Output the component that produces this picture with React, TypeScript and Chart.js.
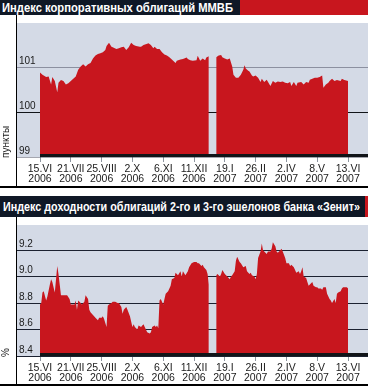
import React, { useEffect, useLayoutEffect, useRef } from "react";
import { Chart, registerables } from "chart.js";
Chart.register(...registerables);

// ---- shared x axis (trading-day index) ----
const xTickDays = [0, 25, 50, 75, 100, 125, 150, 175, 200, 225, 250];
const xTickDates = ["15.VI", "21.VII", "25.VIII", "2.X", "6.XI", "11.XII", "19.I", "26.II", "2.IV", "8.V", "13.VI"];
const xTickYears = ["2006", "2006", "2006", "2006", "2006", "2006", "2007", "2007", "2007", "2007", "2007"];

// ---- chart 1: MICEX corporate bond index ----
const mmvbTitle = "Индекс корпоративных облигаций ММВБ";
const mmvbUnit = "пункты";
const mmvbTicks = [99, 100, 101];
const mmvbDays = [
  0, 2, 5, 7, 9, 10, 12, 14, 15, 17, 19, 21, 23, 25, 27, 29, 31, 33, 35, 37, 39, 41, 43, 45, 47, 49, 51, 53, 54, 56,
  58, 59, 62, 64, 66, 68, 70, 72, 74, 76, 78, 81, 82, 84, 87, 88, 90, 92, 93, 95, 97, 99, 101, 103, 105, 107, 110,
  111, 114, 116, 119, 120, 122, 124, 127, 128, 130, 132, 134, 135, 137, 140, 143, 145, 147, 148, 150, 152, 154, 156,
  157, 159, 161, 163, 165, 166, 167, 169, 170, 172, 173, 175, 177, 179, 180, 182, 184, 187, 189, 191, 193, 195, 197,
  199, 201, 203, 204, 206, 208, 209, 212, 214, 216, 218, 219, 221, 223, 225, 227, 229, 230, 232, 234, 235, 237, 239,
  241, 244, 245, 247, 250,
];
const mmvbValues = [
  100.88, 100.83, 100.78, 100.79, 100.61, 100.78, 100.69, 100.44, 100.65, 100.71, 100.69, 100.61, 100.64, 100.69,
  100.74, 100.79, 100.94, 101.01, 101.06, 101.01, 101.06, 101.09, 101.19, 101.26, 101.29, 101.31, 101.33, 101.38,
  101.47, 101.54, 101.45, 101.44, 101.4, 101.42, 101.44, 101.45, 101.38, 101.44, 101.54, 101.49, 101.47, 101.45,
  101.45, 101.49, 101.52, 101.53, 101.49, 101.42, 101.45, 101.4, 101.4, 101.33, 101.28, 101.26, 101.22, 101.17,
  101.09, 101.14, 101.17, 101.18, 101.21, 101.18, 101.15, 101.14, 101.15, 101.25, 101.14, 101.19, 101.15, 101.21,
  101.24, null, 101.22, 101.26, 101.27, 101.22, 101.19, 101.17, 101.19, 101.01, 100.83, 100.76, 100.76, 100.83,
  100.94, 101.04, 100.97, 100.92, 100.9, 100.81, 100.79, 100.81, 100.76, 100.67, 100.74, 100.67, 100.72, 100.58,
  100.69, 100.65, 100.68, 100.67, 100.68, 100.65, 100.64, 100.67, 100.58, 100.67, 100.58, 100.65, 100.67, 100.61,
  100.67, 100.65, 100.72, 100.74, 100.76, 100.76, 100.78, 100.81, 100.54, 100.61, 100.65, 100.69, 100.74, 100.69,
  100.71, 100.69, 100.74, 100.71, 100.69,
];

// ---- chart 2: Zenit 2nd/3rd tier bond yield index ----
const zenitTitle = "Индекс доходности облигаций 2-го и 3-го эшелонов банка «Зенит»";
const zenitUnit = "%";
const zenitTicks = [8.4, 8.6, 8.8, 9.0, 9.2];
const zenitDays = [
  0, 1, 2, 3, 5, 6, 8, 9, 10, 12, 13, 14, 15, 16, 17, 18, 20, 22, 24, 25, 27, 28, 29, 30, 31, 33, 34, 36, 37, 39, 40,
  41, 43, 45, 47, 48, 50, 51, 52, 54, 55, 56, 58, 59, 61, 63, 64, 66, 67, 68, 70, 71, 73, 75, 76, 77, 79, 80, 82, 83,
  84, 85, 87, 89, 90, 91, 93, 94, 95, 96, 97, 98, 100, 101, 102, 104, 106, 107, 109, 110, 112, 114, 115, 116, 118,
  120, 121, 123, 125, 127, 128, 129, 131, 132, 133, 135, 136, 137, 140, 143, 144, 146, 147, 148, 150, 151, 152, 154,
  155, 156, 158, 159, 160, 162, 163, 165, 167, 168, 170, 171, 172, 174, 175, 176, 177, 179, 180, 181, 182, 184, 185,
  187, 188, 189, 191, 192, 193, 195, 196, 197, 199, 200, 202, 203, 204, 206, 207, 208, 210, 211, 212, 213, 214, 216,
  217, 218, 220, 221, 222, 224, 225, 226, 228, 229, 230, 232, 233, 235, 236, 237, 239, 240, 241, 242, 244, 245, 246,
  248, 249, 250,
];
const zenitValues = [
  8.79, 8.8, 8.88, 8.89, 8.82, 8.85, 8.94, 8.98, 8.96, 8.88, 8.98, 9.08, 9.02, 8.94, 8.86, 8.86, 8.86, 8.86, 8.83,
  8.79, 8.79, 8.79, 8.82, 8.75, 8.82, 8.8, 8.79, 8.81, 8.86, 8.83, 8.75, 8.73, 8.71, 8.69, 8.67, 8.69, 8.69, 8.7,
  8.68, 8.62, 8.78, 8.79, 8.8, 8.81, 8.81, 8.8, 8.8, 8.77, 8.72, 8.75, 8.77, 8.75, 8.7, 8.62, 8.64, 8.62, 8.6, 8.63,
  8.62, 8.63, 8.64, 8.62, 8.58, 8.57, 8.58, 8.62, 8.63, 8.62, 8.63, 8.61, 8.82, 8.83, 8.79, 8.83, 8.87, 8.89, 8.93,
  8.98, 8.99, 9.03, 9.01, 9.04, 9.0, 9.04, 9.01, 9.04, 9.07, 9.1, 9.11, 9.11, 9.1, 9.1, 9.08, 9.09, 9.07, 9.05, 9.02,
  8.94, null, 9.01, 9.02, 9.0, 9.02, 9.05, 9.02, 9.01, 9.0, 8.98, 9.0, 9.01, 9.04, 9.12, 9.15, 9.11, 9.1, 9.07, 9.08,
  9.04, 9.02, 9.03, 9.01, 9.0, 8.98, 9.02, 9.14, 9.19, 9.25, 9.2, 9.19, 9.17, 9.19, 9.19, 9.21, 9.26, 9.23, 9.19,
  9.18, 9.2, 9.21, 9.19, 9.14, 9.1, 9.1, 9.08, 9.09, 9.07, 9.05, 9.03, 9.04, 9.02, 9.04, 9.07, 9.0, 8.99, 8.96, 8.93,
  8.95, 8.96, 8.93, 8.92, 8.92, 8.91, 8.91, 8.9, 8.92, 8.92, 8.87, 8.83, 8.82, 8.8, 8.83, 8.8, 8.87, 8.88, 8.89, 8.91,
  8.92, 8.92, 8.92, 8.91,
];

const FONT = "'Liberation Sans', Arial, sans-serif";
const RED = "#c8161e";
const PLOT_BG = "#d4dae6";
const NAVY = "#0f1826";

function makePlugins() {
  return [
    {
      id: "plotBg",
      beforeDraw(chart: any) {
        const { ctx, chartArea } = chart;
        ctx.save();
        ctx.fillStyle = PLOT_BG;
        ctx.fillRect(chartArea.left, chartArea.top, chartArea.right - chartArea.left, chartArea.bottom - chartArea.top);
        ctx.restore();
      },
    },
    {
      id: "baseBar",
      afterDatasetsDraw(chart: any) {
        const { ctx, chartArea, scales } = chart;
        const x0 = scales.x.getPixelForValue(xTickDays[0]);
        ctx.save();
        ctx.fillStyle = "#111418";
        ctx.fillRect(x0, chartArea.bottom - 3, chartArea.right - x0, 3);
        ctx.restore();
      },
    },
  ];
}

function buildConfig(
  days: number[],
  values: (number | null)[],
  ticks: number[],
  yMin: number,
  yMax: number,
  top: number,
  axisH: number,
  gridColor: (v: number) => string,
  fmt: (v: number) => string
): any {
  return {
    type: "line",
    data: {
      datasets: [
        {
          data: days.map((d, i) => ({ x: d, y: values[i] })),
          fill: "start",
          backgroundColor: RED,
          borderColor: RED,
          borderWidth: 0,
          pointRadius: 0,
          tension: 0,
          spanGaps: false,
        },
      ],
    },
    options: {
      responsive: false,
      animation: false,
      events: [],
      layout: { padding: { left: 17, top, right: 0, bottom: 0 } },
      plugins: { legend: { display: false }, tooltip: { enabled: false } },
      scales: {
        x: {
          type: "linear",
          min: -18.67,
          max: 266.2,
          z: 1,
          afterFit: (s: any) => {
            s.height = axisH;
          },
          afterBuildTicks: (s: any) => {
            s.ticks = xTickDays.map((v) => ({ value: v }));
          },
          border: { display: false },
          grid: { drawOnChartArea: false, drawTicks: true, tickLength: 5, color: "#8e95a0", lineWidth: 1 },
          ticks: {
            autoSkip: false,
            maxRotation: 0,
            minRotation: 0,
            padding: 2,
            color: "#1a1a1a",
            font: { size: 10.5, family: FONT, lineHeight: 0.98 },
            callback: (_v: any, i: number) => [xTickDates[i], xTickYears[i]],
          },
        },
        y: {
          type: "linear",
          min: yMin,
          max: yMax,
          position: "left",
          z: 1,
          afterFit: (s: any) => {
            s.width = 0;
          },
          afterBuildTicks: (s: any) => {
            s.ticks = ticks.map((v) => ({ value: v }));
          },
          border: { display: false },
          grid: {
            drawTicks: false,
            lineWidth: 1,
            color: (ctx: any) => gridColor(ctx.tick ? ctx.tick.value : 0),
          },
          ticks: {
            mirror: true,
            padding: 2,
            labelOffset: -6,
            color: "#1a1a1a",
            font: { size: 10, family: FONT },
            callback: (v: any) => fmt(Number(v)),
          },
        },
      },
    },
  };
}

export default function App() {
  const c1 = useRef<HTMLCanvasElement>(null);
  const c2 = useRef<HTMLCanvasElement>(null);
  const t1 = useRef<HTMLSpanElement>(null);
  const t2 = useRef<HTMLSpanElement>(null);

  useLayoutEffect(() => {
    const fit = (el: HTMLSpanElement | null, target: number) => {
      if (!el) return;
      const w = el.getBoundingClientRect().width;
      if (w > 0) el.style.transform = `scaleX(${target / w})`;
    };
    fit(t1.current, 231);
    fit(t2.current, 357);
  }, []);

  useEffect(() => {
    const ch1 = new Chart(
      c1.current as HTMLCanvasElement,
      {
        ...buildConfig(
          mmvbDays,
          mmvbValues,
          mmvbTicks,
          99,
          101.98,
          2,
          29,
          (v) => (Math.abs(v - 100) < 1e-6 ? "#111418" : "rgba(40,44,64,0.42)"),
          (v) => String(v)
        ),
        plugins: makePlugins(),
      } as any
    );
    const ch2 = new Chart(
      c2.current as HTMLCanvasElement,
      {
        ...buildConfig(
          zenitDays,
          zenitValues,
          zenitTicks,
          8.4,
          9.39,
          0,
          28,
          () => "#1b2130",
          (v) => v.toFixed(1)
        ),
        plugins: makePlugins(),
      } as any
    );
    return () => {
      ch1.destroy();
      ch2.destroy();
    };
  }, []);

  const abs = (l: number, t: number, w: number, h: number, extra: any = {}): React.CSSProperties => ({
    position: "absolute",
    left: l,
    top: t,
    width: w,
    height: h,
    ...extra,
  });

  const titleText: React.CSSProperties = {
    position: "absolute",
    display: "inline-block",
    color: "#ffffff",
    fontFamily: FONT,
    fontWeight: "bold",
    fontSize: 13,
    whiteSpace: "nowrap",
    transformOrigin: "left center",
  };

  const unitText: React.CSSProperties = {
    position: "absolute",
    fontFamily: FONT,
    fontSize: 10,
    color: "#1a1a1a",
    whiteSpace: "nowrap",
    transform: "rotate(-90deg)",
    transformOrigin: "left top",
    lineHeight: "10px",
  };

  return (
    <div style={{ position: "absolute", left: 0, top: 0, width: 368, height: 386, background: "#fff", overflow: "hidden" }}>
      {/* title 1 */}
      <div style={abs(0, 0, 240, 15, { background: NAVY })} />
      <div style={abs(240, 0, 128, 15, { background: RED })} />
      <span ref={t1} style={{ ...titleText, left: 2, top: 0, height: 15, lineHeight: "15px" }}>{mmvbTitle}</span>

      {/* chart 1 */}
      <canvas ref={c1} width={368} height={171} style={{ position: "absolute", left: 0, top: 15, width: 368, height: 171, display: "block" }} />
      <div style={abs(16, 15, 1, 171, { background: "#000" })} />
      <div style={abs(0, 186, 368, 2, { background: "#000" })} />
      <div style={{ ...unitText, left: 1, top: 158 }}>{mmvbUnit}</div>

      {/* title 2 */}
      <div style={abs(0, 196, 365, 21, { background: NAVY })} />
      <div style={abs(365, 196, 3, 21, { background: RED })} />
      <span ref={t2} style={{ ...titleText, left: 3, top: 196, height: 21, lineHeight: "21px" }}>{zenitTitle}</span>

      {/* chart 2 */}
      <canvas ref={c2} width={368} height={167} style={{ position: "absolute", left: 0, top: 217, width: 368, height: 167, display: "block" }} />
      <div style={abs(16, 217, 1, 167, { background: "#000" })} />
      <div style={abs(0, 384, 368, 2, { background: "#000" })} />
      <div style={{ ...unitText, left: 1, top: 357 }}>{zenitUnit}</div>
    </div>
  );
}
